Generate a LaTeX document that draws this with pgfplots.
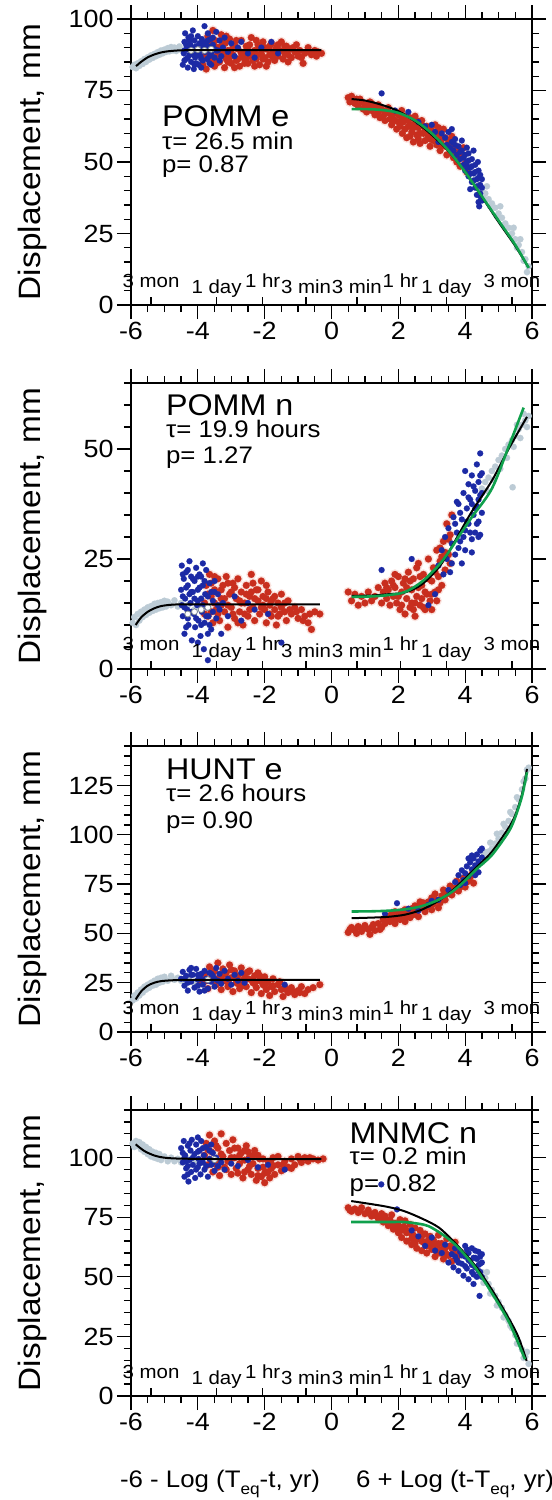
\documentclass[border=0pt]{standalone}
\usepackage{fontspec}
\setmainfont[FakeStretch=1.08]{Liberation Sans}
\usepackage{pgfplots}
\usepackage{pgfplotstable}
\pgfplotsset{compat=1.18}

\definecolor{gpt}{RGB}{188,203,213}
\definecolor{rpt}{RGB}{200,46,30}
\definecolor{rhalo}{RGB}{250,226,221}
\definecolor{bpt}{RGB}{28,42,165}
\definecolor{gfit}{RGB}{16,160,76}

% ---------------- panel 1: POMM e ----------------
\pgfplotstableread[row sep=\\]{x y\\
-5.95 83.2\\ -5.9 84.0\\ -5.85 82.8\\ -5.8 84.5\\ -5.75 83.6\\ -5.7 85.2\\ -5.65 84.3\\ -5.6 86.0\\ -5.55 85.0\\ -5.5 86.6\\
-5.45 85.8\\ -5.4 87.3\\ -5.35 86.4\\ -5.3 87.8\\ -5.25 87.0\\ -5.2 88.4\\ -5.15 87.5\\ -5.1 89.0\\ -5.05 88.0\\ -5.0 89.3\\
-4.95 88.5\\ -4.9 89.8\\ -4.85 88.7\\ -4.8 90.2\\ -4.75 89.0\\ -4.7 90.0\\ -4.65 88.8\\ -4.6 89.6\\ -4.55 90.4\\ -4.5 89.2\\
-4.4 88.6\\ -4.3 89.5\\ -4.2 88.9\\ -4.1 89.4\\ -4.0 89.0\\ -3.9 89.3\\ -3.8 88.8\\ -3.7 89.4\\
}\gLa
\pgfplotstableread[row sep=\\]{x y\\
-3.85 84\\ -3.8 87\\ -3.78 91\\ -3.75 82.5\\ -3.7 94\\ -3.65 85.5\\ -3.6 89.5\\ -3.55 96\\ -3.5 83.5\\ -3.48 92.5\\
-3.45 87\\ -3.4 90\\ -3.35 85\\ -3.3 94.5\\ -3.25 88\\ -3.2 83\\ -3.18 91.5\\ -3.15 86\\ -3.1 89\\ -3.05 93\\
-3.0 84.5\\ -2.95 87.5\\ -2.9 91\\ -2.85 85.5\\ -2.8 89.5\\ -2.75 83.5\\ -2.7 92.5\\ -2.65 86.5\\ -2.6 88.5\\ -2.55 90.5\\
-2.5 84.5\\ -2.45 87\\ -2.4 93.5\\ -2.35 85.5\\ -2.3 89\\ -2.25 86\\ -2.2 91\\ -2.15 84\\ -2.1 88\\ -2.05 92\\
-2.0 86.5\\ -1.95 89.5\\ -1.9 85\\ -1.85 87.5\\ -1.8 91.5\\ -1.75 88.5\\ -1.7 85.5\\ -1.65 90\\ -1.6 87\\ -1.55 89\\
-1.5 92\\ -1.45 86\\ -1.4 88\\ -1.35 90.5\\ -1.3 87.5\\ -1.25 89.5\\ -1.2 86.5\\ -1.1 88.5\\ -1.05 91\\ -1.0 87\\
-0.95 89\\ -0.85 84.5\\ -0.8 88\\ -0.7 90\\ -0.6 87.5\\ -0.5 89\\ -0.4 88.5\\ -0.3 88\\ -3.55 86\\ -3.3 90.5\\
-3.0 88\\ -2.8 86\\ -2.5 89\\ -2.2 87.5\\ -2.0 90\\ -1.7 88\\ -1.4 90.5\\ -3.2 87\\ -2.9 83\\ -2.3 83.5\\
-3.7 88.5\\ -3.6 92\\ -3.45 84.5\\ -3.35 88.5\\ -3.25 92.5\\ -3.1 85\\ -2.95 90\\ -2.85 92.5\\ -2.7 88\\ -2.6 84.5\\
-2.45 91\\ -2.35 88.5\\ -2.15 90\\ -2.05 86\\ -1.95 83.5\\ -1.85 90.5\\ -1.6 91\\ -1.3 85\\ -1.15 90\\ -0.9 86.5\\
-0.65 88.5\\ -0.45 87\\ -3.05 86.5\\ -2.55 86.5\\ -2.25 92.5\\ -1.75 86.5\\ -3.5 90.5\\ -3.15 94\\
}\rLa
\pgfplotstableread[row sep=\\]{x y\\
-4.45 84\\ -4.42 88\\ -4.4 92\\ -4.38 95\\ -4.35 86\\ -4.32 90\\ -4.3 83\\ -4.28 93.5\\ -4.25 87.5\\ -4.22 91\\
-4.2 85\\ -4.18 89\\ -4.15 96\\ -4.12 82.5\\ -4.1 92.5\\ -4.08 86.5\\ -4.05 90.5\\ -4.02 88\\ -4.0 94\\ -3.98 84\\
-3.95 91.5\\ -3.92 87\\ -3.9 89.5\\ -3.88 93\\ -3.85 85.5\\ -3.82 90\\ -3.8 97.5\\ -3.78 88.5\\ -3.75 92\\ -3.72 86\\
-3.7 90.5\\ -3.65 84.5\\ -3.62 93\\ -3.6 88\\ -3.55 91\\ -3.5 86.5\\ -3.45 95.5\\ -3.4 89\\ -3.35 92.5\\ -3.3 87\\
-3.25 90\\ -3.2 93.5\\ -3.1 88.5\\ -3.0 91.5\\ -2.9 87\\ -2.8 90\\ -2.7 92\\ -2.5 88\\ -2.3 86.5\\ -2.1 90\\
-1.8 92\\ -1.6 88\\ -4.4 85.5\\ -4.3 89.5\\ -4.2 94\\ -4.1 84\\ -4.0 87.5\\ -3.9 83\\ -3.8 91\\ -3.7 95\\
-3.6 84\\ -3.5 89.5\\ -4.4 89\\ -4.3 86.5\\ -4.25 92.5\\ -4.15 87.5\\ -4.05 84.5\\ -3.95 88.5\\ -3.85 91.5\\ -3.75 89\\
-3.65 87\\ -3.55 93.5\\ -3.45 89\\ -3.35 85.5\\ -4.35 91\\ -4.1 90\\ -3.9 86\\ -3.7 92.5\\
}\bLa
\pgfplotstableread[row sep=\\]{x y\\
0.5 72.5\\ 0.55 71\\ 0.6 73\\ 0.7 70.5\\ 0.75 72\\ 0.8 69.5\\ 0.9 71\\ 0.95 68.5\\ 1.0 70\\ 1.05 67.5\\
1.1 69.5\\ 1.15 71\\ 1.2 68\\ 1.3 66.5\\ 1.35 69\\ 1.4 67.5\\ 1.45 65.5\\ 1.5 68.5\\ 1.55 66\\ 1.6 64.5\\
1.65 67.5\\ 1.7 69\\ 1.75 65\\ 1.8 63\\ 1.85 67\\ 1.9 64.5\\ 1.95 61.5\\ 2.0 66.5\\ 2.05 62.5\\ 2.1 68\\
2.12 60\\ 2.15 64\\ 2.2 66\\ 2.25 58.5\\ 2.3 62.5\\ 2.35 65.5\\ 2.4 60.5\\ 2.45 57\\ 2.5 63.5\\ 2.55 59.5\\
2.6 62\\ 2.65 56.5\\ 2.7 64.5\\ 2.75 60\\ 2.8 57.5\\ 2.85 62.5\\ 2.9 59\\ 2.95 55.5\\ 3.0 61\\ 3.05 57.5\\
3.1 63\\ 3.15 56\\ 3.2 59.5\\ 3.25 54\\ 3.3 58\\ 3.35 61.5\\ 3.4 55.5\\ 3.45 52.5\\ 3.5 57.5\\ 3.55 54\\
3.6 59\\ 3.65 51.5\\ 3.7 55.5\\ 3.75 50\\ 3.8 53.5\\ 3.85 48.5\\ 3.9 52\\ 3.95 55\\ 4.0 49.5\\ 4.05 46.5\\
2.2 61.5\\ 2.5 66\\ 1.9 67.5\\ 2.8 61\\ 3.2 62\\ 3.0 58.5\\ 1.2 70.5\\ 2.4 63\\
0.65 71.5\\ 0.85 72\\ 1.0 68.5\\ 1.25 69.5\\ 1.4 70\\ 1.6 67\\ 1.75 67\\ 1.85 65\\ 2.0 64\\ 2.1 65.5\\
2.3 64.5\\ 2.45 62\\ 2.55 64.5\\ 2.65 60\\ 2.75 62.5\\ 2.9 61.5\\ 3.05 59.5\\ 3.15 58.5\\ 3.3 56\\ 3.4 58.5\\
3.5 55.5\\ 3.6 53\\ 3.7 52.5\\ 3.8 51\\ 2.35 59\\ 2.6 58\\ 2.95 58\\ 3.25 60.5\\
}\rRa
\pgfplotstableread[row sep=\\]{x y\\
1.5 74\\ 1.9 68\\ 2.3 67.5\\ 2.6 64\\ 2.8 62.5\\ 3.0 63\\ 3.1 60.5\\ 3.2 57\\ 3.3 60\\ 3.4 58.5\\
3.45 56\\ 3.5 60.5\\ 3.55 55\\ 3.6 57\\ 3.65 54\\ 3.7 58\\ 3.75 52.5\\ 3.8 55.5\\ 3.85 51\\ 3.9 54\\
3.95 49\\ 4.0 52.5\\ 4.0 47\\ 4.05 50\\ 4.1 45\\ 4.1 53\\ 4.15 48\\ 4.2 43\\ 4.2 51\\ 4.25 46\\
4.3 41\\ 4.3 49\\ 4.35 44\\ 4.35 38.5\\ 4.4 47\\ 4.4 36\\ 4.45 42\\ 4.45 45.5\\ 4.45 39\\ 4.5 44\\
4.5 36.5\\ 4.5 41\\ 4.42 34.5\\ 4.25 54\\ 4.05 55\\ 3.6 61.5\\ 3.9 57.5\\ 4.15 40.5\\ 4.38 50\\
3.7 56\\ 3.85 53.5\\ 3.95 51.5\\ 4.05 48.5\\ 4.15 46\\ 4.25 43.5\\ 4.35 41.5\\ 4.45 38\\ 4.3 46.5\\ 4.1 50.5\\
4.4 44.5\\ 4.2 48.5\\
}\bRa
\pgfplotstableread[row sep=\\]{x y\\
4.3 44\\ 4.4 42\\ 4.5 40.5\\ 4.6 39\\ 4.7 37\\ 4.8 35.5\\ 4.9 34\\ 5.0 32\\ 5.1 30.5\\ 5.2 28.5\\
5.3 27\\ 5.4 25\\ 5.5 23\\ 5.6 21\\ 5.7 18.5\\ 5.8 16\\ 5.9 13.5\\ 4.55 37.5\\ 4.75 34.5\\ 4.95 31\\
5.15 28\\ 5.35 24.5\\ 5.55 20\\ 5.75 15.5\\ 5.85 11.5\\ 4.65 41.5\\ 5.05 34.5\\ 5.45 27\\ 5.65 23\\
}\gRa

% ---------------- panel 2: POMM n ----------------
\pgfplotstableread[row sep=\\]{x y\\
-5.95 10.5\\ -5.9 11.8\\ -5.85 10\\ -5.8 12.5\\ -5.75 11\\ -5.7 13\\ -5.65 11.8\\ -5.6 13.5\\ -5.55 12.3\\ -5.5 14\\
-5.45 12.8\\ -5.4 14.3\\ -5.35 13.2\\ -5.3 14.8\\ -5.25 13.5\\ -5.2 15\\ -5.15 13.8\\ -5.1 15.2\\ -5.05 14\\ -5.0 15.5\\
-4.95 14.2\\ -4.9 15.3\\ -4.8 14.5\\ -4.7 15.6\\ -4.6 14.2\\ -4.5 15\\ -4.3 14.5\\ -4.1 13.5\\ -3.9 13.8\\ -3.7 14\\
}\gLb
\pgfplotstableread[row sep=\\]{x y\\
-3.8 15\\ -3.75 19\\ -3.7 12\\ -3.65 21.5\\ -3.6 16.5\\ -3.55 10.5\\ -3.5 18\\ -3.45 13.5\\ -3.4 20.5\\ -3.35 11\\
-3.3 16\\ -3.25 19\\ -3.2 13\\ -3.15 21\\ -3.1 9.5\\ -3.05 17\\ -3.0 14\\ -2.95 19.5\\ -2.9 11.5\\ -2.85 16\\
-2.8 20.5\\ -2.75 13\\ -2.7 17.5\\ -2.65 10\\ -2.6 15\\ -2.55 19\\ -2.5 12\\ -2.45 16.5\\ -2.4 21.5\\ -2.35 14\\
-2.3 11\\ -2.25 18\\ -2.2 15.5\\ -2.15 12.5\\ -2.1 20\\ -2.05 16.5\\ -2.0 13.5\\ -1.95 10.5\\ -1.9 17.5\\ -1.85 14.5\\
-1.8 12\\ -1.75 16\\ -1.7 13.5\\ -1.65 10\\ -1.6 15\\ -1.55 12.5\\ -1.5 17\\ -1.4 13\\ -1.35 11\\ -1.3 15.5\\
-1.2 12.5\\ -1.1 14\\ -1.0 11.5\\ -0.9 13.5\\ -0.8 12\\ -0.7 10.5\\ -0.6 9\\ -0.5 13\\ -0.35 12.5\\ -3.6 13\\
-3.3 14.5\\ -3.0 17.5\\ -2.7 15\\ -2.4 17.5\\ -2.1 14\\ -1.8 15.5\\ -1.5 14\\
-3.7 17\\ -3.6 19.5\\ -3.5 15\\ -3.4 12.5\\ -3.3 18\\ -3.2 16\\ -3.1 19.5\\ -2.95 12.5\\ -2.9 18.5\\ -2.75 15.5\\
-2.6 12.5\\ -2.55 17\\ -2.45 13.5\\ -2.35 19.5\\ -2.2 18\\ -2.05 14.5\\ -1.95 16\\ -1.85 12.5\\ -1.7 16.5\\ -1.6 12\\
-1.4 15\\ -1.25 13.5\\ -1.05 13\\ -0.85 11\\ -0.65 12.5\\ -3.8 12.5\\ -3.5 21\\ -3.1 14.5\\ -2.8 10.5\\ -2.3 16\\
-1.95 19\\
}\rLb
\pgfplotstableread[row sep=\\]{x y\\
-4.5 18\\ -4.48 23.5\\ -4.45 12\\ -4.42 20.5\\ -4.4 8\\ -4.38 16\\ -4.35 22\\ -4.32 13.5\\ -4.3 19\\ -4.28 10\\
-4.25 24.5\\ -4.22 15\\ -4.2 21\\ -4.18 6.5\\ -4.15 17.5\\ -4.12 12.5\\ -4.1 20\\ -4.08 9.5\\ -4.05 23\\ -4.02 14.5\\
-4.0 18\\ -3.98 11\\ -3.95 21.5\\ -3.92 7.5\\ -3.9 16\\ -3.88 13\\ -3.85 19\\ -3.82 4.5\\ -3.8 10.5\\ -3.78 17\\
-3.75 22.5\\ -3.72 14\\ -3.7 2\\ -3.68 12\\ -3.65 19.5\\ -3.6 9\\ -3.55 15.5\\ -3.5 20\\ -3.45 11.5\\ -3.4 17\\
-3.35 13.5\\ -3.3 8\\ -3.25 15\\ -3.1 12\\ -2.9 16.5\\ -2.7 11\\ -2.5 15\\ -2.3 13.5\\ -1.9 12.5\\ -1.5 6\\
-4.45 16.5\\ -4.35 9.5\\ -4.2 17.5\\ -4.0 6\\ -3.85 24\\ -3.6 17.5\\ -3.9 21\\ -4.1 13\\ -3.7 8\\
-4.45 21.5\\ -4.4 14\\ -4.35 18.5\\ -4.3 11.5\\ -4.25 17\\ -4.2 13\\ -4.15 20.5\\ -4.1 16\\ -4.05 11.5\\ -4.0 15.5\\
-3.95 18.5\\ -3.9 10\\ -3.85 14.5\\ -3.8 20\\ -3.75 12\\ -3.7 16.5\\ -3.65 10\\ -3.55 13\\ -3.5 17.5\\ -3.4 14.5\\
-4.48 14.5\\ -4.3 22.5\\ -4.0 21\\
}\bLb
\pgfplotstableread[row sep=\\]{x y\\
0.5 17.5\\ 0.6 15.5\\ 0.7 17\\ 0.8 14.5\\ 0.9 16.5\\ 1.0 15\\ 1.1 17.5\\ 1.2 15.5\\ 1.3 16.5\\ 1.4 18.5\\
1.5 15\\ 1.55 17.5\\ 1.6 19.5\\ 1.65 16\\ 1.7 18\\ 1.75 14.5\\ 1.8 20\\ 1.85 16.5\\ 1.9 18.5\\ 1.95 15\\
2.0 21\\ 2.05 13.5\\ 2.1 17.5\\ 2.15 19.5\\ 2.2 12.5\\ 2.25 16\\ 2.3 22\\ 2.35 14\\ 2.4 18\\ 2.45 20.5\\
2.5 12\\ 2.55 16.5\\ 2.6 24\\ 2.65 14.5\\ 2.7 19\\ 2.75 21.5\\ 2.8 13.5\\ 2.85 17\\ 2.9 25\\ 2.95 15.5\\
3.0 20\\ 3.05 23\\ 3.1 17.5\\ 3.15 27\\ 3.2 21\\ 3.25 24.5\\ 3.3 19\\ 3.35 29\\ 3.4 22.5\\ 3.45 33\\
3.5 26\\ 3.55 30.5\\ 3.6 35\\ 2.2 20.5\\ 1.9 21.5\\ 2.4 15\\ 2.7 16\\ 3.0 13.5\\ 3.3 25.5\\
1.65 18.5\\ 1.85 19\\ 2.0 16.5\\ 2.1 14.5\\ 2.25 18.5\\ 2.35 20\\ 2.5 15\\ 2.6 18.5\\ 2.65 21\\ 2.8 17.5\\
2.9 20.5\\ 3.0 17\\ 3.1 22\\ 3.2 18\\ 3.25 27.5\\ 3.4 26.5\\ 3.5 29.5\\ 3.55 24\\ 2.45 13.5\\ 2.75 14\\
3.15 15.5\\ 2.55 23\\
}\rRb
\pgfplotstableread[row sep=\\]{x y\\
1.5 22.5\\ 2.4 25\\ 2.9 14.5\\ 3.1 17\\ 3.2 23.5\\ 3.3 27\\ 3.35 21.5\\ 3.4 30\\ 3.45 25\\ 3.5 32\\
3.55 22\\ 3.6 28.5\\ 3.65 34.5\\ 3.7 26\\ 3.75 31\\ 3.8 37.5\\ 3.85 29\\ 3.9 34\\ 3.95 40\\ 4.0 31.5\\
4.0 27\\ 4.05 36.5\\ 4.1 42\\ 4.1 33\\ 4.15 38.5\\ 4.2 29.5\\ 4.2 44\\ 4.25 35\\ 4.3 40.5\\ 4.3 31\\
4.35 46.5\\ 4.35 37\\ 4.4 42.5\\ 4.4 33.5\\ 4.45 49\\ 4.45 39.5\\ 4.5 44.5\\ 4.5 35.5\\ 4.2 26.5\\ 3.9 24\\
4.4 30\\ 4.0 45\\ 3.75 38\\
3.6 24\\ 3.7 33\\ 3.8 27.5\\ 3.85 35.5\\ 3.95 30\\ 4.05 33.5\\ 4.1 39\\ 4.15 31\\ 4.25 41.5\\ 4.3 36.5\\
4.35 33\\ 4.4 38.5\\ 4.45 44\\ 4.5 40\\ 4.2 37.5\\ 4.45 30.5\\
}\bRb
\pgfplotstableread[row sep=\\]{x y\\
4.5 41\\ 4.6 42.5\\ 4.7 43.5\\ 4.8 45\\ 4.9 46\\ 5.0 47.5\\ 5.1 48.5\\ 5.2 50\\ 5.3 51\\ 5.4 52\\
5.5 53\\ 5.6 54.5\\ 5.7 55.5\\ 5.8 56.5\\ 5.9 57.5\\ 4.65 40.5\\ 4.85 43\\ 5.05 45.5\\ 5.25 48\\ 5.45 50.5\\
5.65 52.5\\ 5.85 55\\ 5.42 41.3\\ 5.55 55.5\\ 5.75 58\\
}\gRb

% ---------------- panel 3: HUNT e ----------------
\pgfplotstableread[row sep=\\]{x y\\
-5.95 16\\ -5.9 18.5\\ -5.85 17\\ -5.8 20\\ -5.75 18.5\\ -5.7 21.5\\ -5.65 20\\ -5.6 23\\ -5.55 21.5\\ -5.5 24\\
-5.45 22.5\\ -5.4 25\\ -5.35 23.5\\ -5.3 26\\ -5.25 24\\ -5.2 27\\ -5.15 25\\ -5.1 27.5\\ -5.05 25.5\\ -5.0 28\\
-4.9 26\\ -4.8 28.5\\ -4.7 26.5\\ -4.6 27.5\\ -4.5 26\\ -4.3 27\\ -4.1 25.5\\ -3.9 26.5\\ -3.7 26\\
}\gLc
\pgfplotstableread[row sep=\\]{x y\\
-3.9 25\\ -3.8 29\\ -3.7 22\\ -3.65 33\\ -3.6 27\\ -3.5 31\\ -3.45 24\\ -3.4 35\\ -3.35 28\\ -3.3 21.5\\
-3.25 32\\ -3.2 26\\ -3.15 30\\ -3.1 23\\ -3.05 34\\ -3.0 27.5\\ -2.95 20.5\\ -2.9 31\\ -2.85 25\\ -2.8 28.5\\
-2.75 22\\ -2.7 32.5\\ -2.65 26\\ -2.6 29.5\\ -2.55 23\\ -2.5 27\\ -2.45 31\\ -2.4 20\\ -2.35 25\\ -2.3 28.5\\
-2.25 22.5\\ -2.2 30\\ -2.15 26\\ -2.1 19.5\\ -2.05 24\\ -2.0 28\\ -1.95 21.5\\ -1.9 25.5\\ -1.85 18.5\\ -1.8 23\\
-1.75 27\\ -1.7 20.5\\ -1.6 24\\ -1.5 21.5\\ -1.45 18\\ -1.4 23\\ -1.3 20\\ -1.2 22.5\\ -1.1 19\\ -1.0 21\\
-0.9 23\\ -0.8 19.5\\ -0.7 21.5\\ -0.55 22.5\\ -0.35 24\\ -3.3 28.5\\ -2.8 24.5\\ -2.4 26.5\\ -2.0 23.5\\
-3.75 26\\ -3.55 30\\ -3.4 25.5\\ -3.2 29.5\\ -3.0 31.5\\ -2.85 28\\ -2.65 23.5\\ -2.5 30.5\\ -2.3 24.5\\ -2.15 28.5\\
-1.95 25\\ -1.75 23.5\\ -1.55 25.5\\ -1.35 21.5\\ -1.15 20.5\\ -0.95 20\\ -3.1 25.5\\ -2.6 27.5\\
}\rLc
\pgfplotstableread[row sep=\\]{x y\\
-4.5 27\\ -4.45 30.5\\ -4.4 23.5\\ -4.35 28.5\\ -4.3 21\\ -4.25 31.5\\ -4.2 25.5\\ -4.15 29\\ -4.1 22.5\\ -4.05 32\\
-4.0 26.5\\ -3.95 20.5\\ -3.9 29.5\\ -3.85 24\\ -3.8 31\\ -3.75 27\\ -3.7 22\\ -3.65 30\\ -3.6 25.5\\ -3.55 28.5\\
-3.5 23\\ -3.45 32.5\\ -3.4 26\\ -3.35 29.5\\ -3.3 24.5\\ -3.2 31\\ -3.1 27\\ -3.0 24\\ -2.9 29\\ -2.8 26\\
-2.7 30\\ -2.6 25\\ -1.4 24\\ -4.2 32.5\\ -3.8 21\\ -4.0 29\\
-4.4 27\\ -4.2 29\\ -4.0 23.5\\ -3.9 27\\ -3.7 26\\ -3.5 27\\ -4.3 25\\ -3.6 29.5\\
}\bLc
\pgfplotstableread[row sep=\\]{x y\\
0.5 50.5\\ 0.6 53\\ 0.7 51.5\\ 0.8 53.5\\ 0.9 51\\ 1.0 54\\ 1.1 52\\ 1.15 49.5\\ 1.2 53\\ 1.3 51.5\\
1.4 55\\ 1.5 53\\ 1.55 57\\ 1.6 55\\ 1.7 58.5\\ 1.75 56\\ 1.8 60\\ 1.85 57.5\\ 1.9 55\\ 2.0 59.5\\
2.05 57\\ 2.1 61\\ 2.15 58\\ 2.2 56\\ 2.3 60.5\\ 2.35 58\\ 2.4 62.5\\ 2.45 59.5\\ 2.5 64\\ 2.55 61\\
2.6 58.5\\ 2.7 63\\ 2.75 65.5\\ 2.8 61\\ 2.9 66\\ 2.95 63.5\\ 3.0 68\\ 3.05 65\\ 3.1 70\\ 3.15 66.5\\
3.2 63\\ 3.3 69\\ 3.35 72\\ 3.4 67\\ 3.5 71\\ 3.55 74\\ 3.6 69.5\\ 3.7 73\\ 3.75 76.5\\ 3.8 71.5\\
3.9 75\\ 3.95 78\\ 4.0 73.5\\ 4.1 77\\ 4.2 80\\ 4.25 75.5\\ 2.2 62\\ 2.6 63.5\\ 3.0 62\\ 1.9 61\\
0.55 52\\ 0.75 50\\ 0.95 52.5\\ 1.25 54.5\\ 1.45 52\\ 1.65 57\\ 1.95 58\\ 2.25 59\\ 2.5 60\\ 2.85 63.5\\
3.1 67\\ 3.45 70\\ 3.65 72\\ 3.85 73.5\\ 4.05 76\\ 4.15 78.5\\ 2.65 66\\ 3.25 65.5\\
}\rRc
\pgfplotstableread[row sep=\\]{x y\\
1.6 60\\ 1.96 65.3\\ 2.3 62.5\\ 2.6 61.5\\ 2.9 64.5\\ 3.0 66.5\\ 3.2 67\\ 3.5 72\\ 3.7 76\\ 3.8 79.5\\
3.85 74.5\\ 3.9 82\\ 3.95 77\\ 4.0 80.5\\ 4.05 84\\ 4.1 79\\ 4.15 86\\ 4.2 82.5\\ 4.25 88\\ 4.3 84.5\\
4.35 90\\ 4.4 86.5\\ 4.45 92\\ 4.5 88.5\\ 4.5 93\\ 4.4 81\\ 4.2 89.5\\ 4.3 79.5\\ 4.1 88\\ 4.0 75.5\\
}\bRc
\pgfplotstableread[row sep=\\]{x y\\
4.3 82\\ 4.4 85\\ 4.5 86\\ 4.6 89\\ 4.7 91.5\\ 4.8 93\\ 4.9 95.5\\ 5.0 98\\ 5.1 101\\ 5.2 104\\
5.3 107\\ 5.4 110.5\\ 5.5 114\\ 5.6 118\\ 5.7 123\\ 5.8 128.5\\ 5.9 134\\ 4.55 91.5\\ 4.75 96\\ 4.95 100.5\\
5.15 105.5\\ 5.35 111.5\\ 5.55 119\\ 5.75 127\\ 5.85 133\\
}\gRc

% ---------------- panel 4: MNMC n ----------------
\pgfplotstableread[row sep=\\]{x y\\
-5.95 106\\ -5.9 104.5\\ -5.85 107\\ -5.8 105\\ -5.75 106.5\\ -5.7 103.5\\ -5.65 105.5\\ -5.6 102.5\\ -5.55 104.5\\ -5.5 101.5\\
-5.45 103.5\\ -5.4 100.5\\ -5.35 102.5\\ -5.3 100\\ -5.25 102\\ -5.2 99.5\\ -5.15 101.5\\ -5.1 99\\ -5.0 100.5\\ -4.9 98.5\\
-4.8 100\\ -4.7 98.5\\ -4.6 99.5\\ -4.5 98\\ -4.3 99.5\\ -4.1 98.5\\ -3.9 99.5\\ -3.7 99\\
}\gLd
\pgfplotstableread[row sep=\\]{x y\\
-3.8 101\\ -3.75 106\\ -3.7 97\\ -3.65 109.5\\ -3.6 102.5\\ -3.55 94\\ -3.5 107\\ -3.45 99\\ -3.4 104\\ -3.35 92.5\\
-3.3 110\\ -3.25 100.5\\ -3.2 96\\ -3.15 106\\ -3.1 98.5\\ -3.05 103\\ -3.0 93\\ -2.95 107.5\\ -2.9 100\\ -2.85 95.5\\
-2.8 104\\ -2.75 97.5\\ -2.7 102\\ -2.65 91.5\\ -2.6 99\\ -2.55 105\\ -2.5 95\\ -2.45 100.5\\ -2.4 93\\ -2.35 97.5\\
-2.3 103\\ -2.25 90.5\\ -2.2 95.5\\ -2.15 99.5\\ -2.1 92\\ -2.05 96\\ -2.0 89.5\\ -1.95 94\\ -1.9 98.5\\ -1.85 91.5\\
-1.8 95.5\\ -1.75 100\\ -1.7 93\\ -1.6 97\\ -1.5 94.5\\ -1.4 98.5\\ -1.3 96\\ -1.2 99.5\\ -1.1 97\\ -1.0 100.5\\
-0.9 98\\ -0.8 100\\ -0.7 98.5\\ -0.55 99.5\\ -0.4 99\\ -0.25 99.5\\ -3.4 96\\ -3.0 100\\ -2.6 94\\ -2.2 101\\
-1.8 97.5\\
-3.7 103.5\\ -3.6 99\\ -3.45 105\\ -3.3 101.5\\ -3.15 95\\ -3.05 98.5\\ -2.9 104\\ -2.75 101\\ -2.6 103\\ -2.45 96.5\\
-2.35 101\\ -2.2 92.5\\ -2.05 99.5\\ -1.9 94\\ -1.75 96.5\\ -1.6 100.5\\ -1.45 97\\ -1.2 95.5\\ -0.95 99.5\\ -0.65 100\\
-3.5 97.5\\ -2.8 93.5\\ -2.5 102.5\\ -2.0 93.5\\
}\rLd
\pgfplotstableread[row sep=\\]{x y\\
-4.5 104\\ -4.45 98\\ -4.42 107\\ -4.4 92\\ -4.38 101\\ -4.35 95.5\\ -4.3 105\\ -4.28 90\\ -4.25 99\\ -4.22 103\\
-4.2 94\\ -4.18 107.5\\ -4.15 97\\ -4.1 101.5\\ -4.08 91.5\\ -4.05 105.5\\ -4.0 96\\ -3.98 99.5\\ -3.95 103\\ -3.92 93\\
-3.9 107\\ -3.85 98\\ -3.82 101\\ -3.8 95\\ -3.75 104.5\\ -3.7 92\\ -3.65 99.5\\ -3.6 97\\ -3.55 102\\ -3.5 94.5\\
-3.45 100\\ -3.4 96.5\\ -3.3 98\\ -3.2 95\\ -3.0 97.5\\ -2.8 96.5\\ -2.5 99\\ -2.2 96\\ -1.9 97\\ -1.4 95\\
-4.4 100\\ -4.0 108.5\\ -4.3 96.5\\ -3.6 105.5\\
-4.45 102\\ -4.35 98.5\\ -4.25 106\\ -4.15 100\\ -4.05 95\\ -3.95 97.5\\ -3.85 104\\ -3.75 96.5\\ -3.65 103\\ -3.55 98\\
-4.3 93\\ -4.0 102.5\\
}\bLd
\pgfplotstableread[row sep=\\]{x y\\
0.5 79\\ 0.6 77.5\\ 0.7 78.5\\ 0.8 77\\ 0.9 79\\ 1.0 76.5\\ 1.1 78\\ 1.2 75.5\\ 1.3 77\\ 1.4 74.5\\
1.5 76.5\\ 1.55 73\\ 1.6 75.5\\ 1.7 71.5\\ 1.75 74\\ 1.8 76\\ 1.85 70\\ 1.9 72.5\\ 2.0 68.5\\ 2.05 74\\
2.1 66.5\\ 2.15 71\\ 2.2 73.5\\ 2.25 65\\ 2.3 69\\ 2.35 72\\ 2.4 63.5\\ 2.45 67.5\\ 2.5 70.5\\ 2.55 62\\
2.6 66\\ 2.65 69.5\\ 2.7 61\\ 2.75 64.5\\ 2.8 68\\ 2.85 60\\ 2.9 63.5\\ 2.95 67\\ 3.0 61.5\\ 3.05 65.5\\
3.1 58.5\\ 3.15 63\\ 3.2 67.5\\ 3.25 60\\ 3.3 64\\ 3.35 57.5\\ 3.4 62\\ 3.45 66\\ 3.5 59\\ 3.55 63\\
3.6 56.5\\ 3.65 61\\ 3.7 64.5\\ 3.75 58\\ 3.8 60.5\\ 2.0 71.5\\ 2.4 68\\ 2.7 65\\ 3.0 64.5\\
0.55 78\\ 0.85 78\\ 1.15 76.5\\ 1.35 75.5\\ 1.5 74\\ 1.65 73.5\\ 1.8 72.5\\ 1.95 70.5\\ 2.1 69.5\\ 2.25 68.5\\
2.4 66\\ 2.55 66\\ 2.7 67\\ 2.85 63\\ 3.0 63\\ 3.15 60.5\\ 3.3 61.5\\ 3.45 59.5\\ 3.6 62\\ 3.7 59.5\\
2.2 70.5\\ 2.5 64\\ 2.9 65.5\\ 3.2 64\\
}\rRd
\pgfplotstableread[row sep=\\]{x y\\
1.49 88.8\\ 1.96 78.3\\ 2.4 69.5\\ 2.6 67\\ 2.8 63\\ 3.0 66.5\\ 3.1 61\\ 3.3 60\\ 3.4 63.5\\ 3.5 56\\
3.6 59.5\\ 3.65 54\\ 3.7 62\\ 3.75 57\\ 3.8 52.5\\ 3.85 60.5\\ 3.9 55.5\\ 3.95 50.5\\ 4.0 58.5\\ 4.0 63\\
4.05 53.5\\ 4.1 60\\ 4.1 49\\ 4.15 56.5\\ 4.2 62\\ 4.2 52\\ 4.25 58\\ 4.3 54\\ 4.3 61\\ 4.35 50\\
4.35 57.5\\ 4.4 55\\ 4.4 60.5\\ 4.45 52\\ 4.45 58.5\\ 4.5 56\\ 4.43 42\\ 4.5 50\\ 4.25 47\\
3.7 58.5\\ 3.8 56\\ 3.9 59\\ 4.0 54.5\\ 4.1 57\\ 4.2 55\\ 4.3 58\\ 4.4 52.5\\ 4.5 59.5\\ 4.05 61.5\\
4.25 51\\ 4.45 55.5\\
}\bRd
\pgfplotstableread[row sep=\\]{x y\\
4.5 52\\ 4.6 49.5\\ 4.7 47\\ 4.8 44.5\\ 4.9 42\\ 5.0 39.5\\ 5.1 37\\ 5.2 34\\ 5.3 31.5\\ 5.4 28.5\\
5.5 25.5\\ 5.6 22.5\\ 5.7 19.5\\ 5.8 16.5\\ 5.9 13.5\\ 4.55 47.5\\ 4.75 43\\ 4.95 38\\ 5.15 33\\ 5.35 29.5\\
5.55 22\\ 5.75 16\\ 5.85 18.5\\ 4.65 52\\
}\gRd

\pgfplotsset{
  panel/.style={scale only axis, width=401bp, height=286bp,
    xmin=-6, xmax=6, ymin=0,
    xtick={-6,-4,...,6}, minor xtick={-6,-5.5,...,6}, minor ytick={0,5,...,145},
    tick align=outside, xtick pos=both, ytick pos=both,
    xticklabel pos=lower, yticklabel pos=left,
    major tick length=14bp, minor tick length=7bp,
    axis line style={line width=1.8bp},
    tick style={black, line width=1.3bp},
    ticklabel style={font=\fontsize{25}{30}\selectfont},
    /pgf/number format/assume math mode=true,
    ylabel={Displacement, mm},
    ylabel style={font=\fontsize{31}{36}\selectfont,
      at={(axis description cs:-0.245,0.5)}, anchor=center},
    clip mode=individual},
  gpts/.style={only marks, mark=*, mark size=3.2bp, mark options={draw=gpt, fill=gpt, line width=0.1bp}},
  halo/.style={only marks, mark=*, mark size=5bp, mark options={draw=rhalo, fill=rhalo, line width=0.1bp}},
  rpts/.style={only marks, mark=*, mark size=3.5bp, mark options={draw=rpt, fill=rpt, line width=0.1bp}},
  bpts/.style={only marks, mark=*, mark size=3bp, mark options={draw=bpt, fill=bpt, line width=0.1bp}},
  opts/.style={only marks, mark=*, mark size=3bp,
    mark options={draw=gpt!70!black, fill=white, line width=0.8bp}},
  bfit/.style={black, line width=2bp, smooth, no marks},
  gfitl/.style={gfit, line width=2.6bp, smooth, no marks},
}

\newcommand\tl[3]{%
  \draw[line width=1.3bp] (rel axis cs:#1,0) -- ([yshift=8bp]rel axis cs:#1,0);
  \node[anchor=base, inner sep=0pt, yshift=#2, font=\fontsize{19}{22}\selectfont]
    at (rel axis cs:#1,0) {#3};}
\newcommand\timelabels{%
  \tl{0.05}{18bp}{3 mon}\tl{0.2133}{11.5bp}{1 day}\tl{0.3283}{18bp}{1 hr}\tl{0.4367}{11.5bp}{3 min}%
  \tl{0.5633}{11.5bp}{3 min}\tl{0.6717}{18bp}{1 hr}\tl{0.7867}{11.5bp}{1 day}\tl{0.95}{18bp}{3 mon}}
\newcommand\plab[7]{% x, y1, y2, y3, name, tau, p
  \node[anchor=base west, inner sep=0pt, text depth=0pt, font=\fontsize{30}{36}\selectfont] at (rel axis cs:#1,#2) {#5};
  \node[anchor=base west, inner sep=0pt, text height=17bp, font=\fontsize{24}{28}\selectfont] at (rel axis cs:#1,#3) {τ= #6};
  \node[anchor=base west, inner sep=0pt, text height=17bp, font=\fontsize{24}{28}\selectfont] at (rel axis cs:#1,#4) {p= #7};}
\newcommand\sub[1]{\raisebox{-0.3em}{\fontsize{16}{16}\selectfont #1}}

\begin{document}
\begin{tikzpicture}
\useasboundingbox (0,0) rectangle (552bp,-1500bp);

% POMM e
\begin{axis}[panel, at={(131bp,-19bp)}, anchor=north west, ymax=100, ytick={0,25,...,100}]
\addplot[gpts] table {\gLa};
\addplot[gpts] table {\gRa};
\addplot[halo] table {\rLa};
\addplot[halo] table {\rRa};
\addplot[rpts] table {\rLa};
\addplot[rpts] table {\rRa};
\addplot[bpts] table {\bLa};
\addplot[bpts] table {\bRa};
\addplot[opts] coordinates {(-4.2,89) (-4.0,89.3) (-3.8,89) (-3.6,89.4)};
\addplot[bfit] coordinates {(-5.85,83.5) (-5.7,85) (-5.5,86.6) (-5.3,87.6) (-5.1,88.3) (-4.9,88.7) (-4.6,89) (-4.2,89.1) (-3,89.1) (-0.3,89.1)};
\addplot[bfit] coordinates {(0.6,72) (1,71.5) (1.5,70) (2,67.8) (2.5,64.2) (3,59.5) (3.5,53.8) (4,46.5) (4.5,37.8) (5,29) (5.5,20.6) (5.9,13)};
\addplot[gfitl] coordinates {(0.6,68.5) (1,68.5) (1.5,68.2) (2,67.2) (2.5,64.5) (3,60) (3.5,54) (4,46.5) (4.5,38) (5,29.5) (5.5,21) (5.9,13)};
\timelabels
\plab{0.077}{0.623}{0.542}{0.462}{POMM e}{26.5 min}{0.87}
\end{axis}

% POMM n
\begin{axis}[panel, at={(131bp,-383bp)}, anchor=north west, ymax=65, ytick={0,25,50}]
\addplot[gpts] table {\gLb};
\addplot[gpts] table {\gRb};
\addplot[halo] table {\rLb};
\addplot[halo] table {\rRb};
\addplot[rpts] table {\rLb};
\addplot[rpts] table {\rRb};
\addplot[bpts] table {\bLb};
\addplot[bpts] table {\bRb};
\addplot[opts] coordinates {(-4.3,12.5) (-4.1,13) (-3.9,13.5) (-3.7,14)};
\addplot[bfit] coordinates {(-5.86,10) (-5.7,11.7) (-5.5,13) (-5.3,13.8) (-5.1,14.3) (-4.8,14.6) (-4.4,14.7) (-3,14.7) (-0.35,14.7)};
\addplot[bfit] coordinates {(0.6,16.6) (1.2,16.7) (1.7,17) (2.2,17.4) (2.7,19.2) (3.2,23) (3.5,26.5) (3.8,30.5) (4.2,35.8) (4.8,42.8) (5.3,50) (5.85,57.3)};
\addplot[gfitl] coordinates {(0.6,16.4) (1.2,16.5) (1.7,16.8) (2.2,17.5) (2.7,19.8) (3.2,23.5) (3.5,26.5) (3.8,30) (4.2,34.5) (4.8,41) (5.3,50.5) (5.75,59.4)};
\timelabels
\plab{0.087}{0.885}{0.81}{0.717}{POMM n}{19.9 hours}{1.27}
\end{axis}

% HUNT e
\begin{axis}[panel, at={(131bp,-746bp)}, anchor=north west, ymax=145, ytick={0,25,...,125}]
\addplot[gpts] table {\gLc};
\addplot[gpts] table {\gRc};
\addplot[halo] table {\rLc};
\addplot[halo] table {\rRc};
\addplot[rpts] table {\rLc};
\addplot[rpts] table {\rRc};
\addplot[bpts] table {\bLc};
\addplot[bpts] table {\bRc};
\addplot[opts] coordinates {(-3.7,26.5)};
\addplot[bfit] coordinates {(-5.86,16.5) (-5.7,20.5) (-5.5,23.5) (-5.3,25) (-5.1,25.8) (-4.8,26.2) (-4.4,26.4) (-3,26.4) (-0.35,26.4)};
\addplot[bfit] coordinates {(0.6,57.7) (1.2,58) (1.7,58.4) (2.2,59.5) (2.7,62) (3.2,66.5) (3.6,71.5) (3.95,77) (4.4,84.5) (4.8,91.4) (5.3,103.5) (5.5,110) (5.7,120.5) (5.85,133.4)};
\addplot[gfitl] coordinates {(0.6,61.1) (1.2,61.2) (1.7,61.5) (2.2,62.2) (2.7,63.8) (3.2,67) (3.6,71) (3.95,76) (4.4,83.5) (4.8,89.7) (5.3,101.5) (5.5,109) (5.7,119.5) (5.85,131.7)};
\timelabels
\plab{0.087}{0.884}{0.807}{0.712}{HUNT e}{2.6 hours}{0.90}
\end{axis}

% MNMC n
\begin{axis}[panel, at={(131bp,-1110bp)}, anchor=north west, ymax=120, ytick={0,25,...,100}]
\addplot[gpts] table {\gLd};
\addplot[gpts] table {\gRd};
\addplot[halo] table {\rLd};
\addplot[halo] table {\rRd};
\addplot[rpts] table {\rLd};
\addplot[rpts] table {\rRd};
\addplot[bpts] table {\bLd};
\addplot[bpts] table {\bRd};
\addplot[opts] coordinates {(-3.5,99.2)};
\addplot[bfit] coordinates {(-5.86,105.6) (-5.6,102.8) (-5.3,100.9) (-5.0,100) (-4.5,99.6) (-3,99.4) (-0.3,99.4)};
\addplot[bfit] coordinates {(0.59,81.8) (1.2,80.5) (1.7,79.3) (2.17,77.6) (2.7,74.5) (3.22,70.6) (3.74,63.6) (4.27,55.2) (4.79,44.8) (5.32,32.2) (5.6,24.5) (5.84,14.7)};
\addplot[gfitl] coordinates {(0.59,73) (1.2,73) (1.7,73) (2.17,73) (2.6,72.3) (2.9,71.3) (3.3,68) (3.74,63) (4.27,54.5) (4.79,43.4) (5.32,30.8) (5.79,15.4)};
\timelabels
\plab{0.545}{0.884}{0.808}{0.715}{MNMC n}{0.2 min}{0.82}
\end{axis}

\node[anchor=base, inner sep=0pt, font=\fontsize{24}{28}\selectfont] at (220bp,-1487bp) {-6 - Log (T\sub{eq}-t, yr)};
\node[anchor=base, inner sep=0pt, font=\fontsize{24}{28}\selectfont] at (455bp,-1487bp) {6 + Log (t-T\sub{eq}, yr)};
\end{tikzpicture}
\end{document}
